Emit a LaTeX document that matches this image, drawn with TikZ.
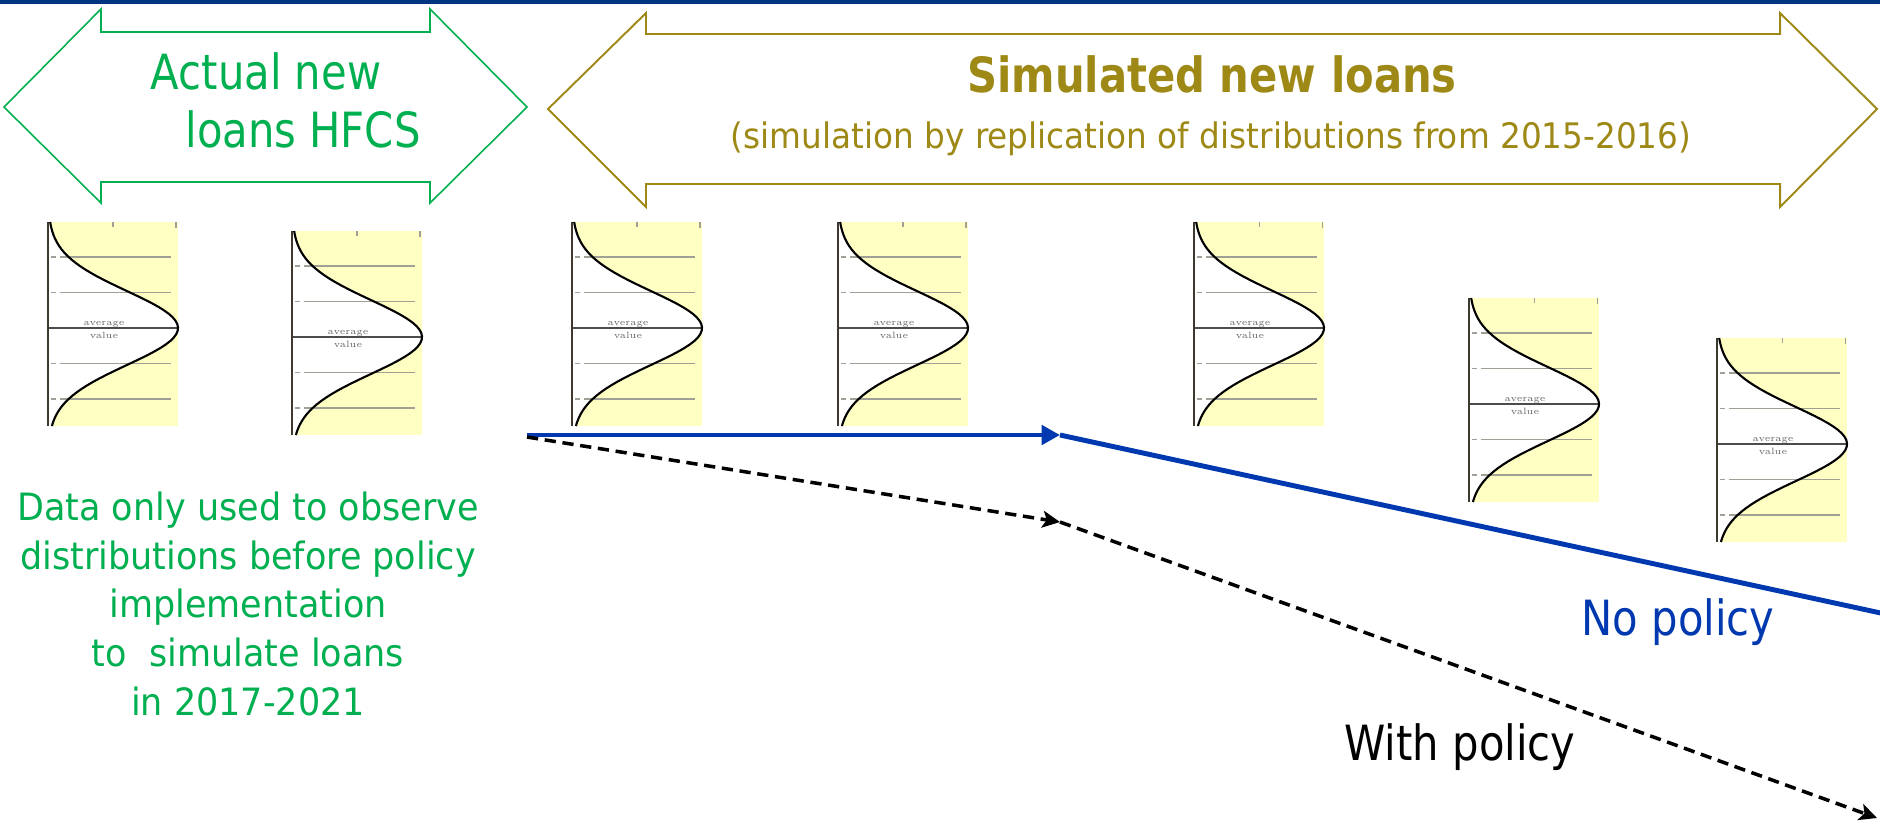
\documentclass[tikz,border=0pt]{standalone}
\usepackage{fontspec}
\usepackage{xcolor}
\usepackage{tikz}
\usetikzlibrary{arrows.meta}
\newfontfamily\tah[FakeStretch=0.86]{DejaVu Sans}
\newfontfamily\verd[FakeStretch=0.93]{DejaVu Sans}
\definecolor{hfcsgreen}{RGB}{0,176,80}
\definecolor{simgold}{RGB}{158,137,22}
\definecolor{polblue}{RGB}{0,56,176}
\definecolor{barnavy}{RGB}{0,51,128}
\definecolor{panelyellow}{RGB}{255,255,196}
\definecolor{gridgray}{RGB}{160,160,150}

\begin{document}
\begin{tikzpicture}[x=0.01cm,y=-0.01cm,>=Stealth,
  every node/.style={inner sep=0pt},
  bigtxt/.style={font={\tah\fontsize{13.8}{16.5}\selectfont}},
  subtxt/.style={font={\verd\fontsize{10}{12}\selectfont}},
  notetxt/.style={font={\verd\fontsize{10.7}{13.8}\selectfont},text=hfcsgreen},
  avgtxt/.style={font={\fontsize{2.6}{3}\selectfont},text=black!60},
  gridln/.style={gridgray,line width=0.3pt},
  bell/.style={line width=0.6pt},
  noline/.style={polblue,line width=1.4pt},
  polline/.style={black,line width=1pt,dash pattern=on 3.2pt off 1.9pt}]
  \useasboundingbox (0,0) rectangle (1880,823);
  \fill[white] (0,0) rectangle (1880,823);
  \fill[barnavy] (0,0) rectangle (1880,3.5);

  % period arrows
  \draw[hfcsgreen,line width=0.45pt] (4,107) -- (101,9) -- (101,32) -- (430,32) -- (430,9)
    -- (527,107) -- (430,203) -- (430,182) -- (101,182) -- (101,203) -- cycle;
  \draw[simgold,line width=0.55pt] (548,109) -- (646,13) -- (646,34) -- (1780,34) -- (1780,13)
    -- (1877,109) -- (1780,207) -- (1780,184) -- (646,184) -- (646,207) -- cycle;
  \node[bigtxt,text=hfcsgreen,anchor=base] (act1) at (266,89) {Actual new};
  \node[bigtxt,text=hfcsgreen,anchor=base] (act2) at (303,147) {loans HFCS};
  \node[bigtxt,text=simgold,anchor=base] (simtitle) at (1212,92) {\bfseries Simulated new loans};
  \node[subtxt,text=simgold,anchor=base] (simsub) at (1211,148) {(simulation by replication of distributions from 2015-2016)};

  % distributions
  \foreach \px/\py [count=\i] in {48/222,292/231,572/222,838/222,1194/222,1469/298,1717/338} {
    \begin{scope}[shift={(\px,\py)}]
      \fill[panelyellow] (0,0) rectangle (130,204);
      \fill[white] (0,0) -- plot[domain=0:204,samples=61,variable=\u] ({130*exp(0-((\u-106)*(\u-106))/2738)},\u) -- (0,204) -- cycle;
      \foreach \h in {35,70.5,141.5,177} {
        \draw[gridln] (3,\h) -- (8,\h);
        \draw[gridln] (12,\h) -- (123,\h);
      }
      \draw[gridln] (65,0) -- (65,5) (128,0) -- (128,6);
      \draw[black!70,line width=0.55pt] (0,106) -- (130,106);
      \draw[bell] plot[domain=0:204,samples=61,variable=\u] ({130*exp(0-((\u-106)*(\u-106))/2738)},\u);
      \draw[black!75!olive,line width=0.8pt] (0,0) -- (0,204);
      \node[avgtxt,anchor=base] (avg\i) at (56,103) {average};
      \node[avgtxt,anchor=north] (val\i) at (56,109) {value};
    \end{scope}
  }

  % scenarios
  \coordinate (bluestart) at (527,435);
  \coordinate (bluemid) at (1060,435);
  \coordinate (blueend) at (1890,615);
  \coordinate (dashstart) at (527,437);
  \coordinate (dashmid) at (1060,522);
  \coordinate (dashend) at (1877,818);
  \draw[noline,-{Triangle[length=5.2pt,width=5.4pt]}] (bluestart) -- (bluemid);
  \draw[noline] (bluemid) -- (blueend);
  \draw[polline,-{Stealth[length=5pt,width=4.8pt,inset=1.2pt]}] (dashstart) -- (dashmid);
  \draw[polline,-{Stealth[length=5pt,width=4.8pt,inset=1.2pt]}] (dashmid) -- (dashend);

  \node[notetxt,anchor=base,align=center] (note) at (248,715) {Data only used to observe\\distributions before policy\\implementation\\to\ \ simulate loans\\in 2017-2021};
  \node[bigtxt,text=polblue,anchor=base] (nopol) at (1678,635) {No policy};
  \node[bigtxt,anchor=base] (withpol) at (1460,760) {With policy};
\end{tikzpicture}
\end{document}
